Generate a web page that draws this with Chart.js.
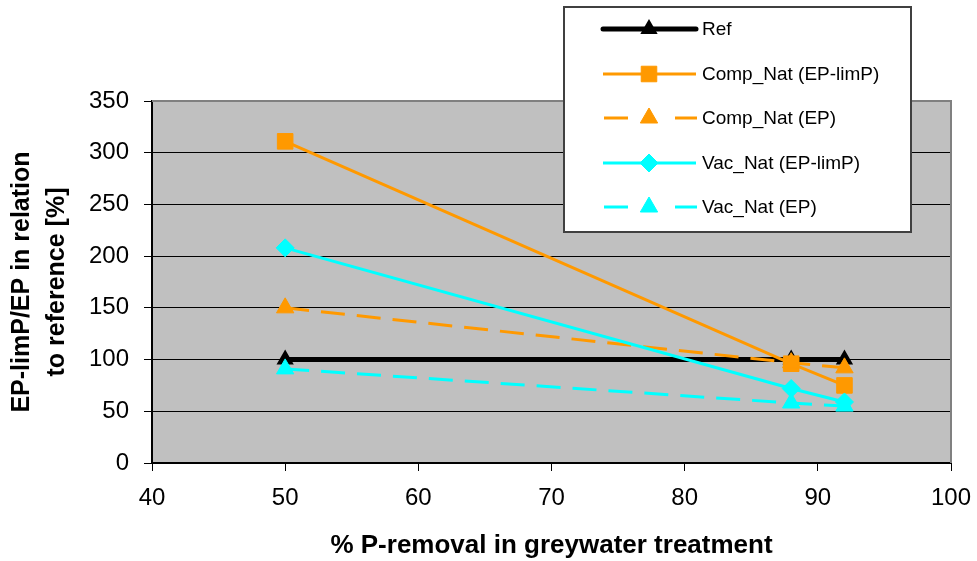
<!DOCTYPE html>
<html>
<head>
<meta charset="utf-8">
<script src="https://cdn.jsdelivr.net/npm/chart.js@4.4.1/dist/chart.umd.min.js"></script>
<style>
  html, body { margin: 0; padding: 0; background: #ffffff; }
  #wrap { width: 977px; height: 561px; position: relative; }
</style>
</head>
<body>
<div id="wrap"><canvas id="chart" width="977" height="561"></canvas></div>
<script>
// P-removal rates in greywater treatment (%)
const removalPct = [50, 88, 92];

// Eutrophication potential relative to the reference system (%)
const refValues   = [100, 100, 100];
const compNatLimP = [311, 96, 75];
const compNatEP   = [150, 97, 92];
const vacNatLimP  = [208, 72, 59];
const vacNatEP    = [91, 58, 55];

const seriesNames = ['Ref', 'Comp_Nat (EP-limP)', 'Comp_Nat (EP)', 'Vac_Nat (EP-limP)', 'Vac_Nat (EP)'];

const xTickValues = [40, 50, 60, 70, 80, 90, 100];
const yTickValues = [0, 50, 100, 150, 200, 250, 300, 350];

const FONT = '"Liberation Sans", Arial, sans-serif';
const ORANGE = '#FF9900';
const CYAN = '#00FFFF';

function points(values) {
  return removalPct.map((x, i) => ({ x: x, y: values[i] }));
}

const styles = [
  { color: '#000000', width: 5, dash: [],       marker: 'triangle', radius: 8, border: 2 },
  { color: ORANGE,    width: 3, dash: [],       marker: 'rect',     radius: 11, border: 1 },
  { color: ORANGE,    width: 3, dash: [24, 12], marker: 'triangle', radius: 10, border: 1 },
  { color: CYAN,      width: 3, dash: [],       marker: 'rectRot',  radius: 9, border: 1 },
  { color: CYAN,      width: 3, dash: [24, 12], marker: 'triangle', radius: 10, border: 1 }
];
const seriesValues = [refValues, compNatLimP, compNatEP, vacNatLimP, vacNatEP];

const datasets = seriesValues.map((vals, i) => ({
  label: seriesNames[i],
  data: points(vals),
  showLine: true,
  borderColor: styles[i].color,
  backgroundColor: styles[i].color,
  borderWidth: styles[i].width,
  borderDash: styles[i].dash,
  pointStyle: styles[i].marker,
  pointRadius: styles[i].radius,
  pointBorderWidth: styles[i].border,
  pointBorderColor: styles[i].color,
  pointBackgroundColor: styles[i].color,
  tension: 0,
  order: seriesValues.length - i   // later series are painted on top
}));

// Grey plot area with a thin grey frame on the top and right
const plotFrame = {
  id: 'plotFrame',
  beforeDraw(chart) {
    const { ctx, chartArea: a } = chart;
    ctx.save();
    ctx.fillStyle = '#C0C0C0';
    ctx.fillRect(a.left, a.top, a.right - a.left, a.bottom - a.top);
    ctx.restore();
  },
  beforeDatasetsDraw(chart) {
    const { ctx, chartArea: a } = chart;
    ctx.save();
    ctx.strokeStyle = '#808080';
    ctx.lineWidth = 2;
    ctx.beginPath();
    ctx.moveTo(a.left, a.top);
    ctx.lineTo(a.right, a.top);
    ctx.lineTo(a.right, a.bottom);
    ctx.stroke();
    ctx.restore();
  }
};

// Boxed legend drawn over the upper right of the plot
const boxLegend = {
  id: 'boxLegend',
  afterDraw(chart) {
    const { ctx } = chart;
    const box = { x: 564, y: 7, w: 347, h: 225 };
    const rows = [29, 74, 118, 163, 207];
    ctx.save();
    ctx.fillStyle = '#ffffff';
    ctx.fillRect(box.x, box.y, box.w, box.h);
    ctx.strokeStyle = '#404040';
    ctx.lineWidth = 2;
    ctx.strokeRect(box.x, box.y, box.w, box.h);

    chart.data.datasets.forEach((ds, i) => {
      const y = rows[i];
      const st = styles[i];
      ctx.strokeStyle = st.color;
      ctx.lineWidth = st.width;
      ctx.lineCap = i === 0 ? 'round' : 'butt';
      ctx.beginPath();
      if (st.dash.length) {
        ctx.moveTo(604, y); ctx.lineTo(628, y);
        ctx.moveTo(675, y); ctx.lineTo(697, y);
      } else {
        ctx.moveTo(603, y); ctx.lineTo(696, y);
      }
      ctx.stroke();
      ctx.fillStyle = st.color;
      ctx.lineWidth = st.border;
      Chart.helpers.drawPoint(ctx, { pointStyle: st.marker, radius: st.radius, borderWidth: st.border, rotation: 0 }, 649, y);
      ctx.fillStyle = '#000000';
      ctx.font = '19px ' + FONT;
      ctx.textAlign = 'left';
      ctx.textBaseline = 'middle';
      ctx.fillText(ds.label, 702, y + 1);
    });
    ctx.restore();
  }
};

new Chart(document.getElementById('chart'), {
  type: 'scatter',
  data: { datasets: datasets },
  options: {
    responsive: false,
    animation: false,
    devicePixelRatio: 1,
    layout: { padding: { left: 0, top: 101, right: 26, bottom: 0 } },
    plugins: {
      legend: { display: false },
      tooltip: { enabled: false }
    },
    scales: {
      x: {
        type: 'linear',
        min: xTickValues[0],
        max: xTickValues[xTickValues.length - 1],
        afterBuildTicks(scale) { scale.ticks = xTickValues.map(v => ({ value: v })); },
        afterFit(scale) {
          scale.height = 98;
          scale.paddingLeft = 0;
          scale.paddingRight = 0;
        },
        ticks: { color: '#000', font: { family: FONT, size: 24 }, padding: 13, maxRotation: 0 },
        grid: { drawOnChartArea: false, drawTicks: true, tickLength: 8, tickColor: '#000', tickWidth: 1 },
        border: { display: true, color: '#000', width: 2 },
        title: {
          display: true,
          text: '% P-removal in greywater treatment',
          color: '#000',
          font: { family: FONT, size: 26, weight: 'bold', lineHeight: 1.2 },
          padding: { top: 0, bottom: 0 }
        }
      },
      y: {
        type: 'linear',
        min: yTickValues[0],
        max: yTickValues[yTickValues.length - 1],
        afterBuildTicks(scale) { scale.ticks = yTickValues.map(v => ({ value: v })); },
        afterFit(scale) {
          scale.width = 152;
          scale.paddingTop = 0;
          scale.paddingBottom = 0;
        },
        ticks: { color: '#000', font: { family: FONT, size: 24 }, padding: 15 },
        grid: { color: '#000', lineWidth: 1, drawTicks: true, tickLength: 8, tickColor: '#000' },
        border: { display: true, color: '#000', width: 2 },
        title: {
          display: true,
          text: ['EP-limP/EP in relation', 'to reference [%]'],
          color: '#000',
          font: { family: FONT, size: 25, weight: 'bold', lineHeight: 1.4 },
          padding: { top: 5, bottom: 4 }
        }
      }
    }
  },
  plugins: [plotFrame, boxLegend]
});
</script>
</body>
</html>
